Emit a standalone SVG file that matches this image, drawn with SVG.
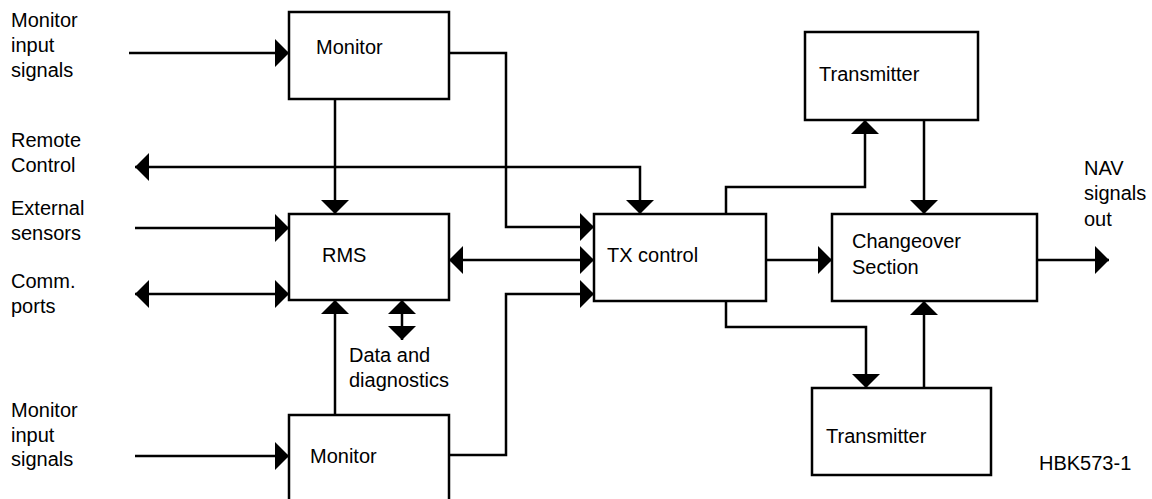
<svg xmlns="http://www.w3.org/2000/svg" width="1152" height="499" viewBox="0 0 1152 499">
<style>
  .box { fill: #ffffff; stroke: #000000; stroke-width: 2.5; }
  .con { fill: none; stroke: #000000; stroke-width: 2.5; }
  text { font-family: "Liberation Sans", Arial, sans-serif; font-size: 20px; fill: #000000; }
</style>
<defs>
  <marker id="arrow" viewBox="0 0 14 28" refX="14" refY="14" markerWidth="14" markerHeight="28" markerUnits="userSpaceOnUse" orient="auto-start-reverse">
    <path d="M0,0 L14,14 L0,28 Z" fill="#000000"/>
  </marker>
</defs>
<rect width="1152" height="499" fill="#ffffff"/>

<g id="connectors">
  <path class="con" d="M129,53 H289" marker-end="url(#arrow)"/>
  <path class="con" d="M135,167 H640 V214" marker-start="url(#arrow)" marker-end="url(#arrow)"/>
  <path class="con" d="M335,99 V214" marker-end="url(#arrow)"/>
  <path class="con" d="M135,228 H289" marker-end="url(#arrow)"/>
  <path class="con" d="M135,294 H289" marker-start="url(#arrow)" marker-end="url(#arrow)"/>
  <path class="con" d="M449,260 H594" marker-start="url(#arrow)" marker-end="url(#arrow)"/>
  <path class="con" d="M449,53 H506 V227 H594" marker-end="url(#arrow)"/>
  <path class="con" d="M449,455 H506 V294 H594" marker-end="url(#arrow)"/>
  <path class="con" d="M335,415 V300" marker-end="url(#arrow)"/>
  <path class="con" d="M402,300 V340" marker-start="url(#arrow)" marker-end="url(#arrow)"/>
  <path class="con" d="M135,456 H289" marker-end="url(#arrow)"/>
  <path class="con" d="M726,214 V187 H865 V120" marker-end="url(#arrow)"/>
  <path class="con" d="M766,260 H832" marker-end="url(#arrow)"/>
  <path class="con" d="M924,120 V214" marker-end="url(#arrow)"/>
  <path class="con" d="M726,301 V327 H866 V388" marker-end="url(#arrow)"/>
  <path class="con" d="M924,388 V301" marker-end="url(#arrow)"/>
  <path class="con" d="M1037,260 H1109" marker-end="url(#arrow)"/>
</g>

<g id="monitor-top">
  <rect class="box" x="289" y="12" width="160" height="87"/>
  <text x="316" y="54">Monitor</text>
</g>
<g id="rms">
  <rect class="box" x="289" y="214" width="160" height="86"/>
  <text x="322" y="262">RMS</text>
</g>
<g id="monitor-bottom">
  <rect class="box" x="289" y="415" width="160" height="100"/>
  <text x="310" y="463">Monitor</text>
</g>
<g id="tx-control">
  <rect class="box" x="594" y="214" width="172" height="87"/>
  <text x="607" y="262">TX control</text>
</g>
<g id="transmitter-top">
  <rect class="box" x="805" y="32" width="173" height="88"/>
  <text x="819" y="81">Transmitter</text>
</g>
<g id="changeover">
  <rect class="box" x="832" y="214" width="205" height="87"/>
  <text x="852" y="248">Changeover</text>
  <text x="852" y="274">Section</text>
</g>
<g id="transmitter-bottom">
  <rect class="box" x="812" y="388" width="179" height="87"/>
  <text x="826" y="443">Transmitter</text>
</g>

<g id="labels">
  <text x="11" y="27">Monitor</text>
  <text x="11" y="52">input</text>
  <text x="11" y="77">signals</text>
  <text x="11" y="147">Remote</text>
  <text x="11" y="172">Control</text>
  <text x="11" y="215">External</text>
  <text x="11" y="240">sensors</text>
  <text x="11" y="288">Comm.</text>
  <text x="11" y="313">ports</text>
  <text x="11" y="417">Monitor</text>
  <text x="11" y="442">input</text>
  <text x="11" y="466">signals</text>
  <text x="349" y="362">Data and</text>
  <text x="349" y="387">diagnostics</text>
  <text x="1084" y="175">NAV</text>
  <text x="1084" y="200">signals</text>
  <text x="1084" y="226">out</text>
  <text x="1039" y="470">HBK573-1</text>
</g>
</svg>
